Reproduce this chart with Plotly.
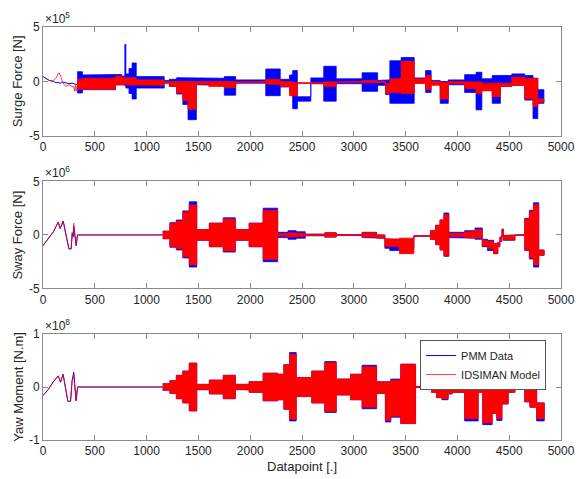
import plotly.graph_objects as go

# ---------------- DATA ----------------
x_ticks = [0, 500, 1000, 1500, 2000, 2500, 3000, 3500, 4000, 4500, 5000]

# Surge force, units of 1e5 N
surge_init_x = [0, 30, 60, 100, 125, 145, 156, 170, 190, 220, 250, 280, 300, 305, 312, 318, 330]
surge_init_pmm = [0.45, 0.25, 0.1, 0.0, -0.1, -0.1, -0.1, -0.15, -0.05, -0.1, -0.2, -0.15, -0.2, -0.2, -0.25, -0.3, -0.3]
surge_init_model = [0.45, 0.25, 0.1, 0.05, 0.3, 0.7, 0.8, 0.5, -0.1, -0.45, -0.3, -0.45, -0.5, -0.9, -0.3, -0.9, -0.4]
surge_edges = [330, 380, 700, 760, 790, 800, 830, 860, 900, 1170, 1220, 1290, 1350, 1400, 1480, 1600,
               1750, 1860, 2150, 2290, 2380, 2410, 2455, 2585, 2710, 2830, 3080, 3230, 3307, 3348, 3457,
               3583, 3693, 3746, 3834, 3912, 4070, 4180, 4236, 4336, 4415, 4525, 4650, 4730, 4776, 4835]
surge_pmm_hi = [0.9, 0.6, 0.65, 0.5, 3.4, 0.7, 1.2, 1.7, 0.45, 0.1, 0.2, 0.35, 0.35, 0.35, 0.3, 0.3,
                0.45, 0.15, 1.15, 0.2, 0.6, 1.0, -1.4, 0.33, 1.4, 0.25, 0.8, 0.1, 0.15, 1.9, 2.2, 0.33,
                1.0, 0.1, 0.0, 0.15, 0.63, 0.85, 0.25, 0.55, 0.55, 0.7, 0.55, 0.3, -0.75]
surge_pmm_lo = [-1.05, -0.75, -0.3, -0.3, -0.4, -0.6, -1.1, -1.6, -0.6, -0.15, -0.45, -1.15, -2.1, -3.5,
                -0.3, -0.35, -1.25, -0.15, -1.3, -0.5, -1.0, -2.5, -1.8, -0.2, -1.8, -0.2, -0.9, -0.35,
                -1.2, -2.0, -2.0, -0.15, -1.0, -0.2, -2.0, -0.3, -1.0, -2.6, -0.8, -2.0, -0.45, -0.35,
                -1.7, -3.4, -2.0]
surge_model_hi = [0.2, 0.3, 0.5, 0.35, 0.35, 0.35, 0.35, 0.35, 0.15, 0.0, 0.0, 0.0, 0.0, 0.0, 0.0, 0.0,
                  0.0, 0.0, 0.2, 0.0, 0.0, -0.1, -0.12, -0.1, -0.05, 0.0, 0.1, 0.0, -0.2, 0.25, 1.85,
                  0.25, 0.55, 0.0, -0.1, 0.0, -0.05, -0.05, -0.15, -0.15, -0.15, 0.4, 0.25, 0.3, -1.6]
surge_model_lo = [-0.7, -0.7, -0.3, -0.3, -0.3, -0.35, -0.35, -0.35, -0.35, -0.1, -0.45, -1.05, -1.75,
                  -2.55, -0.25, -0.45, -0.55, -0.1, -0.25, -0.45, -1.3, -1.3, -0.18, -0.2, -0.45, -0.1,
                  -0.1, -0.1, -1.1, -1.0, -1.1, -0.15, -0.75, -0.35, -1.6, -0.2, -0.65, -1.1, -0.85,
                  -1.4, -0.45, -0.35, -1.6, -2.3, -1.9]

# Sway force, units of 1e6 N
sway_init_x = [0, 50, 100, 147, 165, 195, 215, 250, 272, 282, 290, 297, 320, 333, 1156]
sway_init_pmm = [-1.0, -0.4, 0.3, 1.2, 0.6, 1.3, 0.4, -1.3, -1.3, 0.2, -0.2, 0.8, -1.0, 0.0, 0.0]
sway_init_model = [-1.0, -0.4, 0.3, 1.2, 0.6, 1.3, 0.4, -1.3, -1.3, 0.2, -0.2, 1.1, -1.0, 0.0, 0.0]
sway_edges = [1156, 1225, 1287, 1350, 1412, 1484, 1606, 1740, 1856, 1990, 2125, 2265, 2365, 2444, 2531,
              2720, 2830, 3080, 3220, 3300, 3347, 3440, 3580, 3740, 3790, 3832, 3870, 3917, 4070, 4170,
              4240, 4290, 4350, 4390, 4410, 4430, 4445, 4555, 4650, 4695, 4735, 4785, 4837]
sway_pmm_hi = [0.35, 1.15, 1.4, 2.25, 3.1, 0.5, 1.1, 1.6, 0.5, 1.1, 2.5, 0.25, 0.4, 0.3, 0.08, 0.2, 0.04,
               0.25, 0.0, -0.4, -0.35, -0.4, -0.08, 0.4, 0.9, 1.4, 2.05, 0.25, 0.4, 0.65, -0.4, -0.5,
               -0.8, -0.7, -0.2, 0.55, -0.05, 0.02, 1.55, 2.3, 3.0, -1.4]
sway_pmm_lo = [-0.35, -1.15, -1.4, -2.15, -3.0, -0.5, -1.1, -1.6, -0.5, -1.1, -2.5, -0.25, -0.4, -0.3,
               -0.08, -0.2, -0.04, -0.25, -0.3, -1.25, -1.45, -1.3, -0.12, -0.4, -0.9, -1.4, -2.0, -0.25,
               -0.3, -0.4, -1.1, -1.45, -1.75, -1.1, -0.6, 0.0, -0.5, -0.02, -1.45, -2.25, -3.0, -1.9]
sway_model_hi = [0.35, 1.1, 1.3, 2.15, 2.8, 0.5, 1.1, 1.5, 0.5, 1.1, 2.3, 0.12, 0.2, 0.15, 0.05, 0.2,
                 0.03, 0.2, 0.0, -0.35, -0.4, -0.3, -0.08, 0.4, 0.9, 1.4, 1.9, 0.15, 0.3, 0.5, -0.5,
                 -0.6, -0.8, -0.7, -0.2, 0.5, -0.05, 0.02, 1.5, 2.2, 2.85, -1.45]
sway_model_lo = [-0.35, -1.1, -1.3, -2.05, -2.8, -0.5, -1.1, -1.5, -0.5, -1.1, -2.3, -0.12, -0.2, -0.15,
                 -0.05, -0.2, -0.03, -0.2, -0.3, -1.1, -1.1, -1.75, -0.12, -0.4, -0.9, -1.4, -1.9, -0.15,
                 -0.25, -0.3, -1.0, -1.3, -1.75, -1.1, -0.6, 0.0, -0.45, -0.02, -1.4, -2.15, -2.8, -1.9]

# Yaw moment, units of 1e8 N.m
yaw_init_x = [0, 50, 100, 131, 147, 169, 194, 240, 266, 281, 297, 319, 334, 1156]
yaw_init_pmm = [-0.16, -0.05, 0.1, 0.18, 0.21, 0.09, 0.24, -0.27, -0.27, 0.12, 0.28, -0.26, 0.0, 0.0]
yaw_init_model = [-0.16, -0.05, 0.1, 0.18, 0.21, 0.09, 0.24, -0.27, -0.27, 0.12, 0.22, -0.26, 0.0, 0.0]
yaw_edges = [1156, 1225, 1287, 1350, 1412, 1484, 1606, 1740, 1856, 1990, 2125, 2265, 2325, 2380, 2444,
             2594, 2720, 2830, 2970, 3080, 3220, 3305, 3357, 3453, 3596, 3750, 3800, 3850, 3910, 3950,
             4070, 4200, 4245, 4335, 4380, 4430, 4490, 4555, 4650, 4700, 4765, 4838]
yaw_pmm_hi = [0.06, 0.12, 0.22, 0.3, 0.45, 0.05, 0.13, 0.22, 0.05, 0.1, 0.26, 0.24, 0.42, 0.65, 0.18,
              0.3, 0.48, 0.15, 0.24, 0.41, 0.1, 0.1, 0.15, 0.43, 0.01, 0.1, 0.24, 0.3, 0.2, 0.15, 0.43,
              0.15, 0.12, 0.02, 0.08, 0.3, -0.02, 0.01, 0.43, 0.43, -0.3]
yaw_pmm_lo = [-0.06, -0.12, -0.22, -0.3, -0.45, -0.05, -0.13, -0.22, -0.05, -0.1, -0.26, -0.24, -0.42,
              -0.64, -0.18, -0.3, -0.48, -0.15, -0.24, -0.41, -0.12, -0.66, -0.57, -0.69, -0.01, -0.1,
              -0.2, -0.24, -0.13, -0.1, -0.64, -0.1, -0.71, -0.5, -0.63, -0.32, -0.1, -0.01, -0.28,
              -0.38, -0.64]
yaw_model_hi = [0.06, 0.12, 0.22, 0.3, 0.45, 0.05, 0.13, 0.22, 0.05, 0.1, 0.26, 0.24, 0.42, 0.62, 0.18,
                0.3, 0.46, 0.15, 0.24, 0.38, 0.1, 0.09, 0.13, 0.43, 0.01, 0.1, 0.24, 0.3, 0.2, 0.15,
                0.43, 0.15, 0.1, 0.02, 0.08, 0.3, -0.02, 0.01, 0.43, 0.43, -0.3]
yaw_model_lo = [-0.06, -0.12, -0.22, -0.3, -0.45, -0.05, -0.13, -0.22, -0.05, -0.1, -0.26, -0.24, -0.42,
                -0.61, -0.18, -0.3, -0.46, -0.15, -0.24, -0.38, -0.12, -0.63, -0.55, -0.69, -0.01, -0.1,
                -0.2, -0.22, -0.13, -0.1, -0.6, -0.1, -0.68, -0.5, -0.6, -0.32, -0.1, -0.01, -0.28,
                -0.38, -0.6]

series_names = ["PMM Data", "IDSIMAN Model"]
y_titles = ["Surge Force [N]", "Sway Force [N]", "Yaw Moment [N.m]"]
y_exponents = [5, 6, 8]
y_limits = [5, 5, 1]

# ---------------- FIGURE ----------------
BLUE = "#0000FF"
RED = "#FF0000"
TXT = "#262626"
AX = "#8a8a8a"
FONT = "Liberation Sans, Arial, sans-serif"


def band(edges, hi, lo):
    xu, yu, xl, yl = [], [], [], []
    for i in range(len(hi)):
        xu += [edges[i], edges[i + 1]]
        yu += [hi[i], hi[i]]
        xl += [edges[i], edges[i + 1]]
        yl += [lo[i], lo[i]]
    return xu + xl[::-1], yu + yl[::-1]


panels = [
    (surge_init_x, surge_init_pmm, surge_init_model, surge_edges,
     surge_pmm_hi, surge_pmm_lo, surge_model_hi, surge_model_lo),
    (sway_init_x, sway_init_pmm, sway_init_model, sway_edges,
     sway_pmm_hi, sway_pmm_lo, sway_model_hi, sway_model_lo),
    (yaw_init_x, yaw_init_pmm, yaw_init_model, yaw_edges,
     yaw_pmm_hi, yaw_pmm_lo, yaw_model_hi, yaw_model_lo),
]

fig = go.Figure()
for k, (ix, ip, im, ed, ph, pl, mh, ml) in enumerate(panels):
    xa = "x" if k == 0 else "x%d" % (k + 1)
    ya = "y" if k == 0 else "y%d" % (k + 1)
    bx, by = band(ed, ph, pl)
    fig.add_trace(go.Scatter(x=bx, y=by, fill="toself", fillcolor=BLUE, mode="lines",
                             line=dict(color=BLUE, width=0.8), showlegend=False,
                             xaxis=xa, yaxis=ya, hoverinfo="skip"))
    fig.add_trace(go.Scatter(x=ix, y=ip, mode="lines", line=dict(color=BLUE, width=1),
                             name=series_names[0], showlegend=(k == 0), legendgroup="pmm",
                             xaxis=xa, yaxis=ya))
    bx, by = band(ed, mh, ml)
    fig.add_trace(go.Scatter(x=bx, y=by, fill="toself", fillcolor=RED, mode="lines",
                             line=dict(color=RED, width=0.8), showlegend=False,
                             xaxis=xa, yaxis=ya, hoverinfo="skip"))
    fig.add_trace(go.Scatter(x=ix, y=im, mode="lines", line=dict(color=RED, width=1),
                             opacity=0.75, name=series_names[1], showlegend=(k == 0),
                             legendgroup="model", xaxis=xa, yaxis=ya))

domains = [[0.736, 1.0], [0.367, 0.626], [0.0, 0.2566]]

axis_common = dict(showline=True, linecolor=AX, linewidth=1, mirror="ticks", ticks="inside",
                   ticklen=5, tickcolor=AX, showgrid=False, zeroline=False,
                   ticklabeloverflow="allow",
                   tickfont=dict(family=FONT, size=12, color=TXT))

# page body keeps an 8 px margin, so the figure is 8 px smaller and its left/top margins 8 px less
layout = dict(
    width=579, height=471, plot_bgcolor="white", paper_bgcolor="white",
    margin=dict(l=35, r=13, t=15, b=39),
    font=dict(family=FONT, size=12, color=TXT),
    legend=dict(x=0.728, y=0.242, xanchor="left", yanchor="top", bgcolor="white",
                bordercolor="#555555", borderwidth=1, font=dict(family=FONT, size=11, color=TXT),
                tracegroupgap=0),
    annotations=[],
)
for k in range(3):
    sx = "" if k == 0 else str(k + 1)
    layout["xaxis" + sx] = dict(axis_common, domain=[0, 1], range=[0, 5000], tickvals=x_ticks,
                                anchor="y" + sx)
    lim = y_limits[k]
    layout["yaxis" + sx] = dict(axis_common, domain=domains[k], range=[-lim, lim],
                                tickvals=[-lim, 0, lim], ticktext=[str(-lim), "0", str(lim)],
                                anchor="x" + sx)
    layout["annotations"].append(dict(
        xref="paper", yref="paper", x=0.0, y=domains[k][1], xanchor="left", yanchor="bottom",
        text="×10<sup>%d</sup>" % y_exponents[k], showarrow=False,
        font=dict(family=FONT, size=12, color=TXT), yshift=-1))
    layout["annotations"].append(dict(
        xref="paper", yref="paper", x=-0.049, y=(domains[k][0] + domains[k][1]) / 2,
        xanchor="center", yanchor="middle", textangle=-90, text=y_titles[k], showarrow=False,
        font=dict(family=FONT, size=13, color=TXT)))

layout["annotations"].append(dict(
    xref="paper", yref="paper", x=0.5, y=-0.0647, xanchor="center", yanchor="middle",
    text="Datapoint [.]", showarrow=False, font=dict(family=FONT, size=13, color=TXT)))

fig.update_layout(**layout)
fig.write_html("out.html")
